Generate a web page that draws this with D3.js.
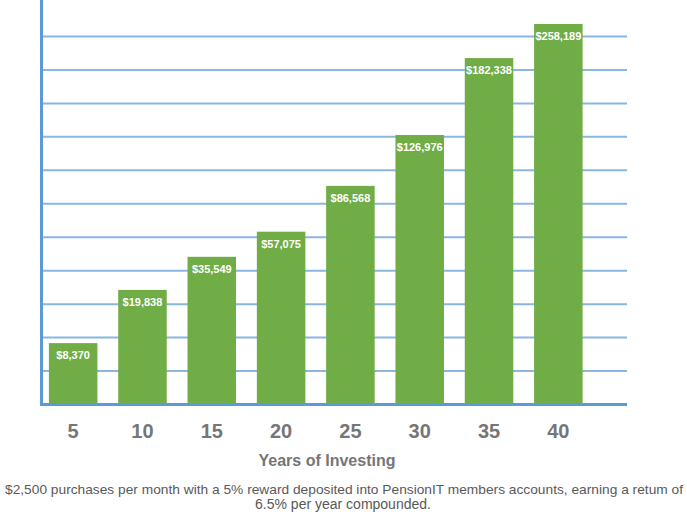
<!doctype html>
<html>
  <head>
    <meta charset="utf-8">
    <script src="https://d3js.org/d3.v7.min.js"></script>
    <style>
      body { margin: 0; background: #fff; }
      text { font-family: "Liberation Sans", Arial, sans-serif; }
    </style>
  </head>
  <body>
    <svg id="chart" width="687" height="515"></svg>
    <script>
      // years on the x axis
      var years = ["5", "10", "15", "20", "25", "30", "35", "40"];
      // value labels printed on the bars
      var balances = [8370, 19838, 35549, 57075, 86568, 126976, 182338, 258189];
      // bar heights as drawn, in gridline units (the chart's hidden y axis)
      var barHeights = [1.82, 3.41, 4.40, 5.15, 6.52, 8.04, 10.34, 11.36];
      // gridlines of the hidden y axis
      var gridTicks = [1, 2, 3, 4, 5, 6, 7, 8, 9, 10, 11];
      var axisTitle = "Years of Investing";
      var note1 = "$2,500 purchases per month with a 5% reward deposited into PensionIT members accounts, earning a retum of";
      var note2 = "6.5% per year compounded.";

      var svg = d3.select("#chart");

      var xScale = d3.scaleBand()
        .domain(years)
        .range([38.5, 593])
        .paddingInner(0.3)
        .paddingOuter(0.15);

      var yScale = d3.scaleLinear()
        .domain([0, 11])
        .range([404, 36]);

      // gridlines
      var grid = d3.axisRight(yScale)
        .tickValues(gridTicks)
        .tickSize(584)
        .tickFormat("");
      svg.append("g")
        .attr("transform", "translate(43,0)")
        .call(grid)
        .call(g => g.select(".domain").remove())
        .call(g => g.selectAll(".tick line")
          .attr("stroke", "#8ab6e2")
          .attr("stroke-width", 2));

      // bars
      svg.selectAll("rect.bar")
        .data(barHeights)
        .enter()
        .append("rect")
        .attr("class", "bar")
        .attr("x", (d, i) => xScale(years[i]))
        .attr("width", xScale.bandwidth())
        .attr("y", d => yScale(d))
        .attr("height", d => yScale(0) - yScale(d))
        .attr("fill", "#70ad47");

      // value labels
      var fmt = d3.format(",");
      svg.selectAll("text.val")
        .data(balances)
        .enter()
        .append("text")
        .attr("class", "val")
        .attr("x", (d, i) => xScale(years[i]) + xScale.bandwidth() / 2)
        .attr("y", (d, i) => yScale(barHeights[i]) + 16)
        .attr("text-anchor", "middle")
        .attr("fill", "#ffffff")
        .style("font-size", "11px")
        .style("font-weight", "bold")
        .text(d => "$" + fmt(d));

      // y axis line and baseline
      svg.append("line")
        .attr("x1", 41.5).attr("x2", 41.5)
        .attr("y1", 0).attr("y2", yScale(0) + 1.5)
        .attr("stroke", "#5b9bd5")
        .attr("stroke-width", 3);
      svg.append("line")
        .attr("x1", 40).attr("x2", 627)
        .attr("y1", yScale(0) + 0.5).attr("y2", yScale(0) + 0.5)
        .attr("stroke", "#5b9bd5")
        .attr("stroke-width", 3);

      // x tick labels
      var xAxis = d3.axisBottom(xScale).tickSize(0).tickPadding(0);
      svg.append("g")
        .attr("transform", "translate(0,404)")
        .call(xAxis)
        .call(g => g.select(".domain").remove())
        .call(g => g.selectAll(".tick text")
          .attr("y", 34)
          .attr("dy", 0)
          .attr("fill", "#767676")
          .style("font-size", "20px")
          .style("font-weight", "bold")
          .style("font-family", "'Liberation Sans', Arial, sans-serif"));

      // axis title
      svg.append("text")
        .attr("x", 327)
        .attr("y", 466)
        .attr("text-anchor", "middle")
        .attr("fill", "#767676")
        .style("font-size", "16px")
        .style("font-weight", "bold")
        .text(axisTitle);

      // footnote
      svg.append("text")
        .attr("x", 5)
        .attr("y", 494)
        .attr("textLength", 678)
        .attr("lengthAdjust", "spacingAndGlyphs")
        .attr("fill", "#595959")
        .style("font-size", "13.5px")
        .text(note1);
      svg.append("text")
        .attr("x", 343)
        .attr("y", 509)
        .attr("text-anchor", "middle")
        .attr("fill", "#595959")
        .style("font-size", "14px")
        .text(note2);
    </script>
  </body>
</html>
